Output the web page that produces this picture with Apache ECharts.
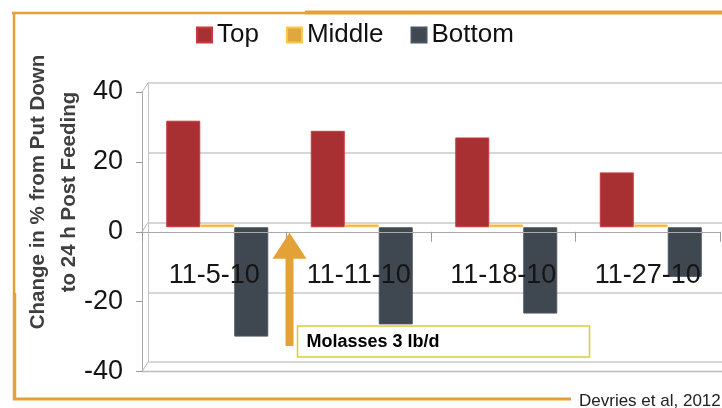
<!DOCTYPE html>
<html>
<head>
<meta charset="utf-8">
<script src="https://cdn.jsdelivr.net/npm/echarts@6/dist/echarts.min.js"></script>
<style>
  html, body { margin: 0; padding: 0; background: #fff; }
  #chart { width: 722px; height: 408px; }
</style>
</head>
<body>
<div id="chart"></div>
<script>
// Sampling dates
const categories = ['11-5-10', '11-11-10', '11-18-10', '11-27-10'];
// Change in % from put down to 24 h post feeding, by layer
const topValues = [30.5, 27.6, 25.7, 15.7];
const middleValues = [0.8, 0.8, 0.8, 0.8];
const bottomValues = [-31.3, -27.8, -24.7, -14.2];
// Value axis ticks
const yTicks = [-40, -20, 0, 20, 40];
const seriesNames = ['Top', 'Middle', 'Bottom'];
const annotationText = 'Molasses 3 lb/d';
const sourceText = 'Devries et al, 2012';
const yTitleLines = ['Change in % from Put Down', 'to 24 h Post Feeding'];

const FONT = "'Liberation Sans', Arial, Helvetica, sans-serif";
const COLORS = ['#A83033', '#E2A63E', '#3F4751'];
const ORANGE = '#E3A136';

const yMin = yTicks[0], yMax = yTicks[yTicks.length - 1], yStep = yTicks[1] - yTicks[0];

const chart = echarts.init(document.getElementById('chart'), null, { renderer: 'canvas' });

const valueAxisBase = { type: 'value', min: yMin, max: yMax, interval: yStep };
const gridBase = { outerBoundsMode: 'none', containLabel: false };

// front plot box
const FRONT = { left: 142, top: 92, right: 2, bottom: 36.5 };
const frontHeight = 408 - FRONT.top - FRONT.bottom;
// upper part of the front box, ending at the zero line: carries the date labels
const zeroBandHeight = frontHeight * yMax / (yMax - yMin);

const hiddenCat = {
  type: 'category', data: categories,
  axisLine: { show: false }, axisTick: { show: false }, axisLabel: { show: false }
};
const hiddenValue = Object.assign({}, valueAxisBase, {
  axisLine: { show: false }, axisTick: { show: false }, axisLabel: { show: false },
  splitLine: { show: false }
});

const option = {
  backgroundColor: '#fff',
  animation: false,
  textStyle: { fontFamily: FONT },
  legend: {
    data: seriesNames,
    left: 191, top: 17,
    icon: 'rect', itemWidth: 15, itemHeight: 15, itemGap: 27,
    textStyle: { fontFamily: FONT, fontSize: 26, color: '#111' }
  },
  grid: [
    // back wall of the pseudo-3D box
    Object.assign({ left: 148, top: 83, width: 580, bottom: 46 }, gridBase),
    // bars sit midway in depth
    Object.assign({ left: 145, top: 87.5, width: 578, bottom: 41 }, gridBase),
    // front axes
    Object.assign({}, FRONT, gridBase),
    // date labels hanging below the zero line
    Object.assign({ left: FRONT.left, right: FRONT.right, top: FRONT.top, height: zeroBandHeight }, gridBase)
  ],
  xAxis: [
    Object.assign({ gridIndex: 0 }, hiddenCat),
    Object.assign({ gridIndex: 1 }, hiddenCat),
    { gridIndex: 2, type: 'category', data: categories, z: 10,
      axisLine: { show: true, onZero: true, lineStyle: { color: '#aaa', width: 1 } },
      axisTick: { show: true, length: 10, interval: 0, lineStyle: { color: '#999' } },
      axisLabel: { show: false } },
    { gridIndex: 3, type: 'category', data: categories, position: 'bottom', z: 10,
      axisLine: { show: false, onZero: false }, axisTick: { show: false },
      axisLabel: { show: true, interval: 0, margin: 30, fontSize: 27, color: '#151515', fontFamily: FONT } }
  ],
  yAxis: [
    Object.assign({}, valueAxisBase, { gridIndex: 0,
      axisLine: { show: true, lineStyle: { color: '#c4c4c4' } },
      axisTick: { show: false }, axisLabel: { show: false },
      splitLine: { show: true, lineStyle: { color: '#c8c8c8', width: 1.5 } } }),
    Object.assign({ gridIndex: 1 }, hiddenValue),
    Object.assign({}, valueAxisBase, { gridIndex: 2, z: 10,
      axisLine: { show: true, lineStyle: { color: '#aaa' } },
      axisTick: { show: true, length: 6, lineStyle: { color: '#999' } },
      axisLabel: { show: true, margin: 19, fontSize: 27, color: '#151515', fontFamily: FONT },
      splitLine: { show: false } }),
    { gridIndex: 3, type: 'value', min: 0, max: yMax, show: false }
  ],
  series: [
    { name: seriesNames[0], data: topValues },
    { name: seriesNames[1], data: middleValues },
    { name: seriesNames[2], data: bottomValues }
  ].map((s, i) => ({
    type: 'bar', name: s.name, data: s.data,
    xAxisIndex: 1, yAxisIndex: 1,
    barWidth: 34, barGap: '0%',
    itemStyle: {
      color: COLORS[i],
      borderColor: echarts.color.lift(COLORS[i], -0.2), borderWidth: 1
    },
    z: 3
  }))
};

chart.setOption(option);

// Pixel helpers for decorations
const front = (cat, v) => chart.convertToPixel({ xAxisIndex: 2, yAxisIndex: 2 }, [cat, v]);
const back = (cat, v) => chart.convertToPixel({ xAxisIndex: 0, yAxisIndex: 0 }, [cat, v]);
const barPx = (cat, v) => chart.convertToPixel({ xAxisIndex: 1, yAxisIndex: 1 }, [cat, v]);

const catStep = front(categories[1], 0)[0] - front(categories[0], 0)[0];
const frontLeft = front(categories[0], 0)[0] - catStep / 2;
const frontRight = front(categories[categories.length - 1], 0)[0] + catStep / 2;
const backLeft = back(categories[0], 0)[0] - (back(categories[1], 0)[0] - back(categories[0], 0)[0]) / 2;

const graphics = [];

// front edge of the floor
const floorY = front(categories[0], yMin)[1];
graphics.push({
  type: 'line', silent: true, z: 1,
  shape: { x1: frontLeft, y1: floorY, x2: frontRight + 4, y2: floorY },
  style: { stroke: '#bdbdbd', lineWidth: 1.5 }
});

// depth connectors at the left corners of the box
[yMax, 0, yMin].forEach(v => {
  graphics.push({
    type: 'line', silent: true, z: 1,
    shape: { x1: frontLeft, y1: front(categories[0], v)[1], x2: backLeft, y2: back(categories[0], v)[1] },
    style: { stroke: '#b8b8b8', lineWidth: 1 }
  });
});

// arrow marking the change of ration, between the first two dates at zero
const c0 = barPx(categories[0], 0), c1 = barPx(categories[1], 0);
const tipX = (c0[0] + c1[0]) / 2;
const tipY = front(categories[0], 0)[1] + 1;
const headH = 26, headW = 17, shaftW = 8, shaftBottom = 346;
graphics.push({
  type: 'polygon', silent: true, z: 20,
  shape: { points: [[tipX, tipY], [tipX - headW, tipY + headH], [tipX + headW, tipY + headH]] },
  style: { fill: ORANGE }
});
graphics.push({
  type: 'rect', silent: true, z: 20,
  shape: { x: tipX - shaftW / 2, y: tipY + headH - 1, width: shaftW, height: shaftBottom - tipY - headH + 1 },
  style: { fill: ORANGE }
});
// annotation box
const boxX = tipX + 8, boxY = 326, boxW = 292, boxH = 31;
graphics.push({
  type: 'rect', silent: true, z: 21,
  shape: { x: boxX, y: boxY, width: boxW, height: boxH },
  style: { fill: '#fff', stroke: '#D4D22E', lineWidth: 1.5 }
});
graphics.push({
  type: 'text', silent: true, z: 22,
  style: { x: boxX + 9, y: boxY + boxH / 2 + 1, text: annotationText, fill: '#000',
    font: 'bold 18px ' + FONT, textAlign: 'left', textVerticalAlign: 'middle' }
});

// rotated value-axis title
graphics.push({
  type: 'text', silent: true, z: 5,
  x: 54, y: 192, rotation: Math.PI / 2,
  style: { text: yTitleLines.join('\n'), fill: '#3f3f3f', font: 'bold 20.5px ' + FONT,
    lineHeight: 31, textAlign: 'center', textVerticalAlign: 'middle' }
});

// slide frame
graphics.push({ type: 'line', silent: true, z: 30, shape: { x1: 12, y1: 13, x2: 306, y2: 13 }, style: { stroke: ORANGE, lineWidth: 2.5 } });
graphics.push({ type: 'line', silent: true, z: 30, shape: { x1: 305, y1: 12.5, x2: 722, y2: 12.5 }, style: { stroke: ORANGE, lineWidth: 4 } });
graphics.push({ type: 'line', silent: true, z: 30, shape: { x1: 14, y1: 12, x2: 14, y2: 294 }, style: { stroke: ORANGE, lineWidth: 2.5 } });
graphics.push({ type: 'line', silent: true, z: 30, shape: { x1: 14.5, y1: 293, x2: 14.5, y2: 400 }, style: { stroke: ORANGE, lineWidth: 3.5 } });
graphics.push({ type: 'line', silent: true, z: 30, shape: { x1: 13, y1: 399, x2: 571, y2: 399 }, style: { stroke: ORANGE, lineWidth: 3 } });
graphics.push({
  type: 'text', silent: true, z: 30,
  style: { x: 579, y: 401, text: sourceText, fill: '#222', font: '17px ' + FONT,
    textAlign: 'left', textVerticalAlign: 'middle' }
});

chart.setOption({ graphic: graphics });
</script>
</body>
</html>
